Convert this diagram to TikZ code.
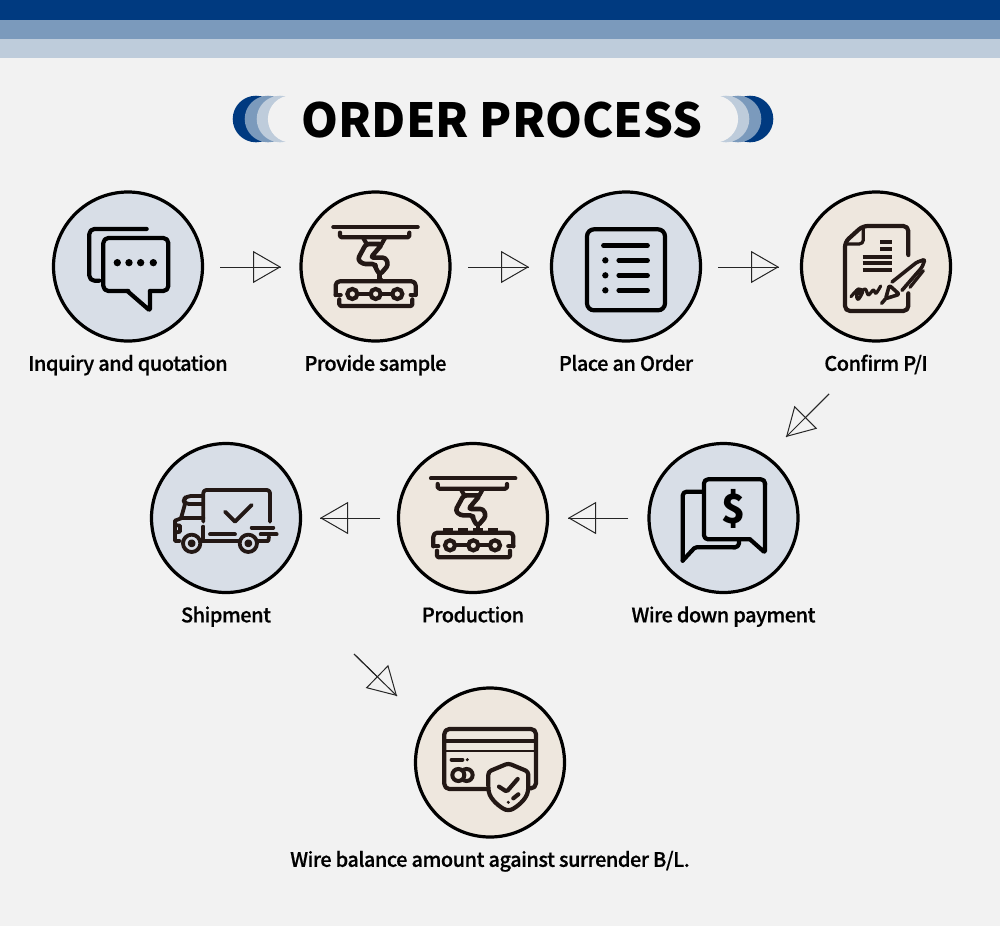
\documentclass[tikz,border=0pt]{standalone}
\usepackage{fontspec}
\setmainfont{Noto Sans CJK KR}
\newfontfamily\labelfont[LetterSpace=-2.5, FakeBold=0.6]{Noto Sans CJK KR Medium}
\usetikzlibrary{arrows.meta, positioning}
\definecolor{pageGray}{RGB}{242,242,242}
\definecolor{barDark}{RGB}{0,58,128}
\definecolor{barMid}{RGB}{123,154,188}
\definecolor{barSoft}{RGB}{190,204,219}
\definecolor{softBlue}{RGB}{216,222,231}
\definecolor{softBeige}{RGB}{238,231,222}
\definecolor{inkBrown}{RGB}{35,24,21}
\tikzset{
    bluecircle/.style={
        circle,
        draw=black,
        line width=3.2pt,
        fill=softBlue,
        inner sep=0pt,
        minimum size=149pt
    },
    beigecircle/.style={
        circle,
        draw=black,
        line width=3.2pt,
        fill=softBeige,
        inner sep=0pt,
        minimum size=149pt
    },
    steplabel/.style={
        font=\labelfont\fontsize{20}{22}\selectfont,
        text=black,
        inner sep=0pt,
        text height=15pt,
        text depth=5pt
    },
    flowarrow/.style={
        -{Triangle[open, length=28pt, width=32pt, line width=1pt]},
        line width=1pt,
        draw=black!85,
        postaction={draw, arrows=-}
    },
    iconline/.style={line width=4.2pt, line cap=round, line join=round, rounded corners=1.5pt},
    thinline/.style={line width=3.2pt, line cap=round, line join=round},
    truckline/.style={line width=3.8pt, line cap=round, line join=round, draw=inkBrown}
}
\newcommand{\machineicon}{
    \draw[iconline, draw=inkBrown] (130,141) -- (383,141);
    \draw[iconline, draw=inkBrown] (150,158) -- (150,172) -- (358,172) -- (358,158);
    \draw[iconline, draw=inkBrown] (220,174) -- (230,192);
    \draw[iconline, draw=inkBrown] (285,174) -- (275,192);
    \draw[iconline, line width=4.6pt, draw=inkBrown, rounded corners=3pt] (228,192) -- (277,192) -- (242,233) -- (287,233) -- (295,255) -- (270,284)
        -- (256,264) -- (256,252) -- (218,252) -- (203,238) -- cycle;
    \draw[iconline, draw=inkBrown] (137,345) -- (152,345);
    \draw[iconline, draw=inkBrown] (362,345) -- (377,345);
    \draw[iconline, draw=inkBrown, rounded corners=4pt] (137,345) -- (137,304) -- (377,304) -- (377,345);
    \draw[iconline, draw=inkBrown] (148,358) -- (148,378) -- (367,378) -- (367,358);
    \foreach \cx in {187,257,322} {
        \draw[line width=4.2pt, draw=inkBrown] (\cx,342) circle[radius=15];
    }
    \draw[iconline, draw=inkBrown] (207,342) -- (237,342);
    \draw[iconline, draw=inkBrown] (277,342) -- (302,342);
}
\begin{document}
\begin{tikzpicture}[x=1pt, y=-1pt]
    \useasboundingbox (0,0) rectangle (1000,926);
    \fill[pageGray] (0,0) rectangle (1000,926);
    \fill[barDark] (0,0) rectangle (1000,19.5);
    \fill[barMid] (0,19.5) rectangle (1000,39);
    \fill[barSoft] (0,39) rectangle (1000,58);

    \fill[barDark] (256,119) circle[radius=23.3];
    \fill[barMid] (268,119) circle[radius=23.3];
    \fill[barSoft] (280,119) circle[radius=23.3];
    \fill[pageGray] (291.5,119) circle[radius=23.6];
    \fill[barDark] (750,119) circle[radius=23.3];
    \fill[barMid] (738,119) circle[radius=23.3];
    \fill[barSoft] (726,119) circle[radius=23.3];
    \fill[pageGray] (714.5,119) circle[radius=23.6];
    \node[font=\fontsize{47}{52}\bfseries, inner sep=0pt] (title) at (502,120.5) {ORDER PROCESS};

    \node[bluecircle] (inquiry) at (128,266.5) {};
    \node[beigecircle] (sample) at (375.5,266.5) {};
    \node[bluecircle] (order) at (626,266.5) {};
    \node[beigecircle] (confirm) at (876,266.5) {};
    \node[bluecircle] (deposit) at (723.5,518) {};
    \node[beigecircle] (production) at (473,518) {};
    \node[bluecircle] (shipment) at (226,518) {};
    \node[beigecircle] (balance) at (490,762.5) {};

    \node[steplabel, below=13pt of inquiry] (inquirytext) {Inquiry and quotation};
    \node[steplabel, below=13pt of sample] (sampletext) {Provide sample};
    \node[steplabel, below=13pt of order] (ordertext) {Place an Order};
    \node[steplabel, below=13pt of confirm] (confirmtext) {Confirm P/I};
    \node[steplabel, below=13pt of deposit] (deposittext) {Wire down payment};
    \node[steplabel, below=13pt of production] (productiontext) {Production};
    \node[steplabel, below=13pt of shipment] (shipmenttext) {Shipment};
    \node[steplabel, below=13pt of balance] (balancetext) {Wire balance amount against surrender B/L.};

    \coordinate (inquiryout) at (220,267);
    \coordinate (samplein) at (281,267);
    \coordinate (sampleout) at (468,267);
    \coordinate (orderin) at (529,267);
    \coordinate (orderout) at (718,267);
    \coordinate (confirmin) at (779,267);
    \coordinate (confirmout) at (829,394);
    \coordinate (depositin) at (786,437);
    \coordinate (depositout) at (628,518);
    \coordinate (productionin) at (568,518);
    \coordinate (productionout) at (380,518);
    \coordinate (shipmentin) at (320,518);
    \coordinate (shipmentout) at (354,654);
    \coordinate (balancein) at (397,696);
    \draw[flowarrow] (inquiryout) -- (samplein);
    \draw[flowarrow] (sampleout) -- (orderin);
    \draw[flowarrow] (orderout) -- (confirmin);
    \draw[flowarrow] (confirmout) -- (depositin);
    \draw[flowarrow] (depositout) -- (productionin);
    \draw[flowarrow] (productionout) -- (shipmentin);
    \draw[flowarrow] (shipmentout) -- (balancein);

    \begin{scope}[shift={(40,180)}, x=0.3333pt, y=-0.3333pt]
        \draw[iconline, draw=black, rounded corners=5pt] (320,147) -- (148,147) -- (148,302) -- (178,302);
        \draw[iconline, draw=black, rounded corners=5pt] (265,333) -- (190,333) -- (190,174) -- (385,174) -- (385,333) -- (330,333);
        \draw[iconline, draw=black] (262,333) -- (330,392) -- (330,333);
        \foreach \cx in {232,267,302,340} {
            \fill[black] (\cx,248) circle[radius=11];
        }
    \end{scope}

    \begin{scope}[shift={(290,180)}, x=0.3333pt, y=-0.3333pt]
        \machineicon
        \draw[line width=5pt, draw=inkBrown] (270,282) -- (270,298);
        \fill[inkBrown] (253,304) -- (287,304) -- (270,288) -- cycle;
    \end{scope}

    \begin{scope}[shift={(540,180)}, x=0.3333pt, y=-0.3333pt]
        \draw[line width=4.2pt, draw=black, rounded corners=7pt] (141,148) rectangle (375,391);
        \draw[iconline, line width=4.4pt, draw=black] (190,197) -- (323,197);
        \foreach \ly in {241,286,331} {
            \draw[iconline, line width=4.4pt, draw=black] (236,\ly) -- (323,\ly);
            \fill[black] (196,\ly) circle[radius=9.5];
        }
    \end{scope}

    \begin{scope}[shift={(790,180)}, x=0.3333pt, y=-0.3333pt]
        \draw[iconline, draw=inkBrown, rounded corners=5pt] (355,225) -- (355,138) -- (218,138) -- (165,186) -- (165,393) -- (355,393) -- (355,340);
        \draw[thinline, draw=inkBrown, rounded corners=4pt] (220,142) -- (220,192) -- (170,192);
        \foreach \lx/\ly in {270/185, 270/207, 218/230, 218/250, 218/271} {
            \draw[iconline, draw=inkBrown, line cap=butt] (\lx,\ly) -- (305,\ly);
        }
        \draw[thinline, draw=inkBrown] plot[smooth] coordinates {(183,350) (205,327) (218,335) (205,358) (200,345) (225,327) (235,345) (250,330) (258,340) (272,318)};
        \draw[iconline, line width=3.6pt, draw=inkBrown] (275,370) -- (287,356);
        \draw[iconline, line width=3.6pt, draw=inkBrown] (287,356) -- (298,316) -- (328,343) -- cycle;
        \draw[iconline, line width=3.6pt, draw=inkBrown] (306,306) -- (380,247) -- (405,238) -- (396,262) -- (336,331);
        \draw[thinline, draw=inkBrown] (360,322) -- (400,272);
    \end{scope}

    \begin{scope}[shift={(640,385)}, x=0.3333pt, y=-0.3333pt]
        \draw[iconline, draw=black, rounded corners=4pt] (190,320) -- (128,320) -- (128,527);
        \draw[iconline, draw=black] (128,527) -- (165,487) -- (285,487);
        \draw[iconline, draw=black, rounded corners=4pt] (280,487) -- (297,487) -- (297,465);
        \draw[iconline, draw=black, rounded corners=4pt] (330,463) -- (192,463) -- (192,283) -- (375,283) -- (375,300);
        \draw[iconline, draw=black] (375,295) -- (375,503) -- (330,463);
        \node[font=\fontsize{40}{40}\bfseries, inner sep=0pt] (dollar) at (282,373) {\$};
    \end{scope}

    \begin{scope}[shift={(140,435)}, x=0.3333pt, y=-0.3333pt]
        \draw[truckline, rounded corners=3pt] (190,260) -- (190,165) -- (390,165) -- (390,260);
        \draw[truckline] (190,275) -- (190,318);
        \draw[truckline] (255,230) -- (285,260) -- (335,210);
        \draw[truckline] (335,278) -- (400,278);
        \draw[truckline] (362,298) -- (410,298);
        \draw[truckline] (210,298) -- (285,298);
        \draw[truckline, rounded corners=4pt] (190,183) -- (140,183) -- (130,195) -- (135,207) -- (190,207);
        \draw[truckline] (135,207) -- (123,250) -- (105,257) -- (105,318) -- (120,318);
        \draw[truckline] (123,250) -- (190,250);
        \draw[truckline] (105,270) -- (120,272) -- (120,290) -- (105,293);
        \draw[truckline] (180,318) -- (295,318);
        \draw[truckline] (352,318) -- (385,318) -- (387,305);
        \foreach \wx in {155,325} {
            \draw[truckline] (\wx,325) circle[radius=26];
            \draw[truckline] (\wx,325) circle[radius=6];
        }
    \end{scope}

    \begin{scope}[shift={(390,435)}, x=0.3333pt, y=-0.3333pt]
        \begin{scope}[shift={(-7,-11)}]
            \machineicon
        \end{scope}
        \draw[line width=4pt, draw=inkBrown] (263,271) -- (263,293);
        \foreach \bx in {160,205,250,295} {
            \fill[inkBrown] (\bx,293) -- (\bx,280) -- (\bx+30,280) -- (\bx+30,293) -- cycle;
        }
    \end{scope}

    \begin{scope}[shift={(345,645)}, x=0.3333pt, y=-0.3333pt]
        \draw[iconline, draw=inkBrown, rounded corners=5pt] (430,432) -- (298,432) -- (298,252) -- (573,252) -- (573,430) -- (552,430);
        \draw[line width=4.6pt, draw=inkBrown] (300,288) -- (571,288);
        \draw[thinline, line width=1.6pt, draw=inkBrown] (300,318) -- (571,318);
        \draw[iconline, draw=inkBrown] (320,344) -- (352,344);
        \fill[inkBrown] (367,344) circle[radius=5];
        \draw[line width=4pt, draw=inkBrown] (365,390) circle[radius=18];
        \draw[line width=4pt, draw=inkBrown, fill=softBeige] (340,390) circle[radius=18];
        \draw[iconline, fill=softBeige, draw=inkBrown, rounded corners=3pt] (490,355) -- (430,380) -- (430,430) .. controls (435,465) and (470,490) .. (490,497) .. controls (510,490) and (545,465) .. (550,430) -- (550,380) -- cycle;
        \draw[iconline, draw=inkBrown] (462,425) -- (485,440) -- (518,402);
        \fill[inkBrown] (490,472) circle[radius=5];
        \draw[iconline, draw=inkBrown] (505,460) -- (520,448);
    \end{scope}
\end{tikzpicture}
\end{document}
